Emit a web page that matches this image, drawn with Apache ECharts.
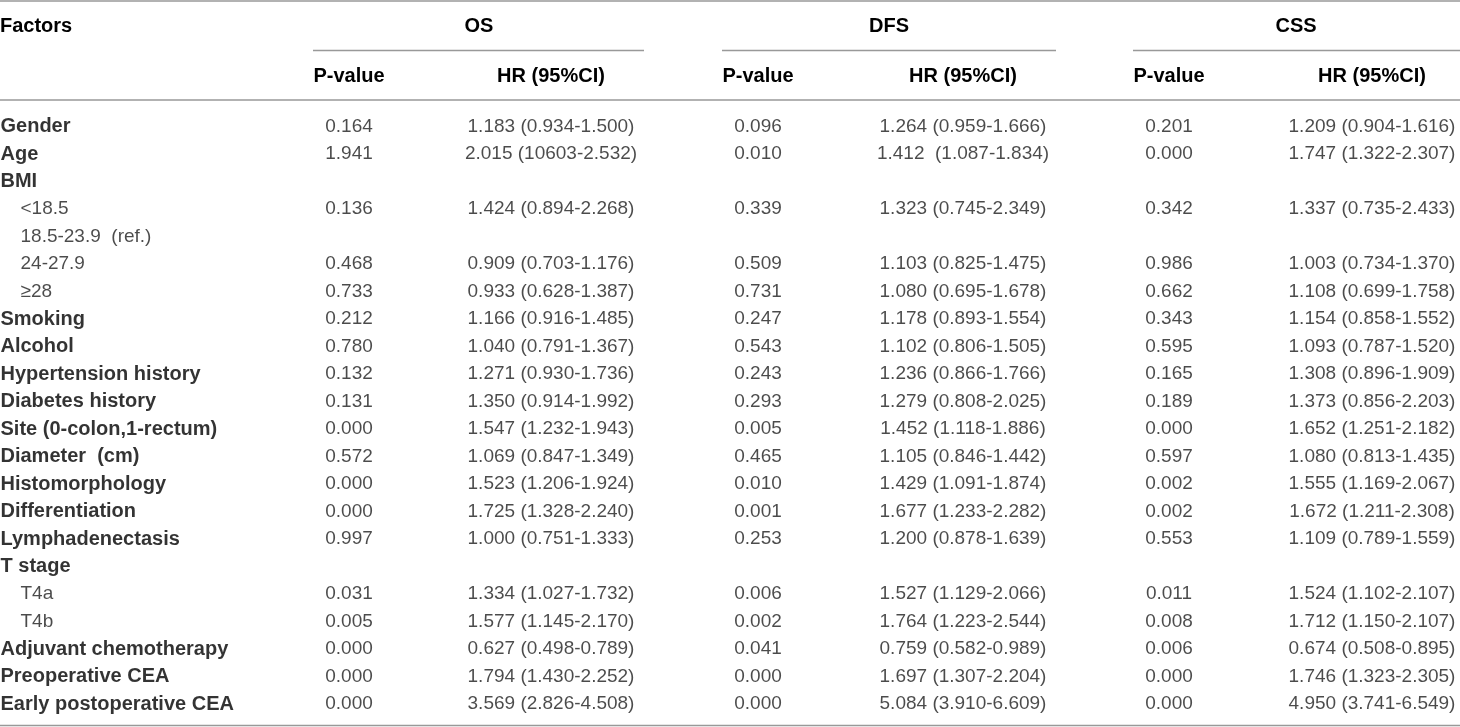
<!DOCTYPE html>
<html>
<head>
<meta charset="utf-8">
<script src="https://cdn.jsdelivr.net/npm/echarts@6/dist/echarts.min.js"></script>
<style>
  html, body { margin: 0; padding: 0; background: #fff; }
  #main { width: 1460px; height: 727px; }
</style>
</head>
<body>
<div id="main"></div>
<script>
// table contents
var factors = ['Gender', 'Age', 'BMI', '<18.5', '18.5-23.9  (ref.)', '24-27.9', '\u226528', 'Smoking', 'Alcohol',
  'Hypertension history', 'Diabetes history', 'Site (0-colon,1-rectum)', 'Diameter  (cm)', 'Histomorphology',
  'Differentiation', 'Lymphadenectasis', 'T stage', 'T4a', 'T4b', 'Adjuvant chemotherapy', 'Preoperative CEA',
  'Early postoperative CEA'];
var subRows = [3, 4, 5, 6, 17, 18];   // indented, not bold

var osP = ['0.164', '1.941', '', '0.136', '', '0.468', '0.733', '0.212', '0.780', '0.132', '0.131', '0.000', '0.572',
  '0.000', '0.000', '0.997', '', '0.031', '0.005', '0.000', '0.000', '0.000'];
var osHR = ['1.183 (0.934-1.500)', '2.015 (10603-2.532)', '', '1.424 (0.894-2.268)', '', '0.909 (0.703-1.176)',
  '0.933 (0.628-1.387)', '1.166 (0.916-1.485)', '1.040 (0.791-1.367)', '1.271 (0.930-1.736)', '1.350 (0.914-1.992)',
  '1.547 (1.232-1.943)', '1.069 (0.847-1.349)', '1.523 (1.206-1.924)', '1.725 (1.328-2.240)', '1.000 (0.751-1.333)',
  '', '1.334 (1.027-1.732)', '1.577 (1.145-2.170)', '0.627 (0.498-0.789)', '1.794 (1.430-2.252)', '3.569 (2.826-4.508)'];
var dfsP = ['0.096', '0.010', '', '0.339', '', '0.509', '0.731', '0.247', '0.543', '0.243', '0.293', '0.005', '0.465',
  '0.010', '0.001', '0.253', '', '0.006', '0.002', '0.041', '0.000', '0.000'];
var dfsHR = ['1.264 (0.959-1.666)', '1.412  (1.087-1.834)', '', '1.323 (0.745-2.349)', '', '1.103 (0.825-1.475)',
  '1.080 (0.695-1.678)', '1.178 (0.893-1.554)', '1.102 (0.806-1.505)', '1.236 (0.866-1.766)', '1.279 (0.808-2.025)',
  '1.452 (1.118-1.886)', '1.105 (0.846-1.442)', '1.429 (1.091-1.874)', '1.677 (1.233-2.282)', '1.200 (0.878-1.639)',
  '', '1.527 (1.129-2.066)', '1.764 (1.223-2.544)', '0.759 (0.582-0.989)', '1.697 (1.307-2.204)', '5.084 (3.910-6.609)'];
var cssP = ['0.201', '0.000', '', '0.342', '', '0.986', '0.662', '0.343', '0.595', '0.165', '0.189', '0.000', '0.597',
  '0.002', '0.002', '0.553', '', '0.011', '0.008', '0.006', '0.000', '0.000'];
var cssHR = ['1.209 (0.904-1.616)', '1.747 (1.322-2.307)', '', '1.337 (0.735-2.433)', '', '1.003 (0.734-1.370)',
  '1.108 (0.699-1.758)', '1.154 (0.858-1.552)', '1.093 (0.787-1.520)', '1.308 (0.896-1.909)', '1.373 (0.856-2.203)',
  '1.652 (1.251-2.182)', '1.080 (0.813-1.435)', '1.555 (1.169-2.067)', '1.672 (1.211-2.308)', '1.109 (0.789-1.559)',
  '', '1.524 (1.102-2.107)', '1.712 (1.150-2.107)', '0.674 (0.508-0.895)', '1.746 (1.323-2.305)', '4.950 (3.741-6.549)'];

var groups = ['OS', 'DFS', 'CSS'];
var subHeads = ['P-value', 'HR (95%CI)'];

var FONT = '"Liberation Sans", Arial, Helvetica, sans-serif';
var LINE = '#999999';
var INK = '#000000';
var VAL = '#1e1e1e';

// column centres (x axis units = pixels)
var colX = [349, 551, 758, 963, 1169, 1372];
var groupX = [479, 889, 1296];
var groupLine = [[313, 644], [722, 1056], [1133, 1460]];

var myChart = echarts.init(document.getElementById('main'));

function cellSeries(values, x) {
  var data = [];
  values.forEach(function (v, i) {
    if (v !== '') data.push([x, factors[i], v]);
  });
  return {
    type: 'scatter',
    symbolSize: 1,
    itemStyle: { color: 'rgba(0,0,0,0)' },
    silent: true,
    data: data,
    label: {
      show: true,
      position: 'inside',
      formatter: function (p) { return p.data[2]; },
      fontFamily: FONT,
      fontSize: 19,
      color: VAL
    }
  };
}

var labelData = factors.map(function (f, i) {
  var sub = subRows.indexOf(i) >= 0;
  return {
    value: [sub ? 20 : 0, f, f],
    label: sub ? { fontWeight: 'normal', fontSize: 19, color: VAL } : { fontWeight: 'bold', fontSize: 20, color: INK }
  };
});

var columns = [osP, osHR, dfsP, dfsHR, cssP, cssHR];
var series = [{
  type: 'scatter',
  symbolSize: 1,
  itemStyle: { color: 'rgba(0,0,0,0)' },
  silent: true,
  data: labelData,
  label: {
    show: true,
    position: 'right',
    distance: 0,
    formatter: function (p) { return p.value[2]; },
    fontFamily: FONT
  }
}];
columns.forEach(function (col, k) { series.push(cellSeries(col, colX[k])); });

// header text and rules
var graphic = [];
function hline(x1, x2, y) {
  graphic.push({ type: 'line', shape: { x1: x1, y1: y, x2: x2, y2: y }, style: { stroke: LINE, lineWidth: 1.5 }, silent: true });
}
function htext(t, x, y, align) {
  graphic.push({
    type: 'text', x: x, y: y, silent: true,
    style: { text: t, fontFamily: FONT, fontSize: 20, fontWeight: 'bold', fill: INK, align: align || 'center', verticalAlign: 'middle' }
  });
}
hline(0, 1460, 1);
hline(0, 1460, 100);
hline(0, 1460, 725.5);
htext('Factors', 0, 26, 'left');
groups.forEach(function (g, k) {
  htext(g, groupX[k], 26);
  hline(groupLine[k][0], groupLine[k][1], 50.5);
  htext(subHeads[0], colX[2 * k], 76);
  htext(subHeads[1], colX[2 * k + 1], 76);
});

myChart.setOption({
  animation: false,
  grid: { left: 0, right: 0, top: 112.75, height: 605, containLabel: false },
  xAxis: { type: 'value', min: 0, max: 1460, show: false },
  yAxis: { type: 'category', data: factors, inverse: true, show: false },
  graphic: graphic,
  series: series
});
</script>
</body>
</html>
